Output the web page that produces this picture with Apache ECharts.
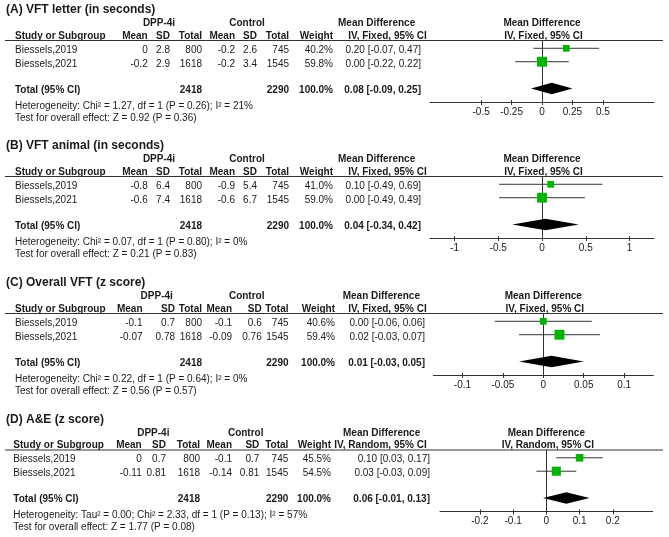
<!DOCTYPE html>
<html>
<head>
<meta charset="utf-8">
<script src="https://cdn.jsdelivr.net/npm/echarts@6/dist/echarts.min.js"></script>
<style>
html,body{margin:0;padding:0;background:#fff;}
#chart{width:669px;height:537px;}
</style>
</head>
<body>
<div id="chart"></div>
<script>
// ---------------- DATA ----------------
const studies = ['Biessels,2019', 'Biessels,2021'];
const dppN = [800, 1618];
const ctlN = [745, 1545];
const dppTotalN = 2418;
const ctlTotalN = 2290;

const titles = ['(A) VFT letter (in seconds)', '(B) VFT animal (in seconds)', '(C) Overall VFT (z score)', '(D) A&E (z score)'];
const methodLabels = ['IV, Fixed, 95% CI', 'IV, Fixed, 95% CI', 'IV, Fixed, 95% CI', 'IV, Random, 95% CI'];

// Panel A
const dppMeanA = [0, -0.2], dppSdA = [2.8, 2.9], ctlMeanA = [-0.2, -0.2], ctlSdA = [2.6, 3.4];
const weightA = [40.2, 59.8], mdA = [0.20, 0.00], loA = [-0.07, -0.22], hiA = [0.47, 0.22];
const totalA = [0.08, -0.09, 0.25];
const hetA = 'Heterogeneity: Chi\u00B2 = 1.27, df = 1 (P = 0.26); I\u00B2 = 21%';
const testA = 'Test for overall effect: Z = 0.92 (P = 0.36)';
const ticksA = [-0.5, -0.25, 0, 0.25, 0.5];
const rangeA = 0.92;

// Panel B
const dppMeanB = [-0.8, -0.6], dppSdB = [6.4, 7.4], ctlMeanB = [-0.9, -0.6], ctlSdB = [5.4, 6.7];
const weightB = [41.0, 59.0], mdB = [0.10, 0.00], loB = [-0.49, -0.49], hiB = [0.69, 0.49];
const totalB = [0.04, -0.34, 0.42];
const hetB = 'Heterogeneity: Chi\u00B2 = 0.07, df = 1 (P = 0.80); I\u00B2 = 0%';
const testB = 'Test for overall effect: Z = 0.21 (P = 0.83)';
const ticksB = [-1, -0.5, 0, 0.5, 1];
const rangeB = 1.28;

// Panel C
const dppMeanC = [-0.1, -0.07], dppSdC = [0.7, 0.78], ctlMeanC = [-0.1, -0.09], ctlSdC = [0.6, 0.76];
const weightC = [40.6, 59.4], mdC = [0.00, 0.02], loC = [-0.06, -0.03], hiC = [0.06, 0.07];
const totalC = [0.01, -0.03, 0.05];
const hetC = 'Heterogeneity: Chi\u00B2 = 0.22, df = 1 (P = 0.64); I\u00B2 = 0%';
const testC = 'Test for overall effect: Z = 0.56 (P = 0.57)';
const ticksC = [-0.1, -0.05, 0, 0.05, 0.1];
const rangeC = 0.136;

// Panel D
const dppMeanD = [0, -0.11], dppSdD = [0.7, 0.81], ctlMeanD = [-0.1, -0.14], ctlSdD = [0.7, 0.81];
const weightD = [45.5, 54.5], mdD = [0.10, 0.03], loD = [0.03, -0.03], hiD = [0.17, 0.09];
const totalD = [0.06, -0.01, 0.13];
const hetD = 'Heterogeneity: Tau\u00B2 = 0.00; Chi\u00B2 = 2.33, df = 1 (P = 0.13); I\u00B2 = 57%';
const testD = 'Test for overall effect: Z = 1.77 (P = 0.08)';
const ticksD = [-0.2, -0.1, 0, 0.1, 0.2];
const rangeD = 0.32;

const studyRows = [0, 1];
const totalRow = 3;

const panels = [
  {dm: dppMeanA, ds: dppSdA, cm: ctlMeanA, cs: ctlSdA, w: weightA, md: mdA, lo: loA, hi: hiA, tot: totalA, het: hetA, test: testA, ticks: ticksA, range: rangeA},
  {dm: dppMeanB, ds: dppSdB, cm: ctlMeanB, cs: ctlSdB, w: weightB, md: mdB, lo: loB, hi: hiB, tot: totalB, het: hetB, test: testB, ticks: ticksB, range: rangeB},
  {dm: dppMeanC, ds: dppSdC, cm: ctlMeanC, cs: ctlSdC, w: weightC, md: mdC, lo: loC, hi: hiC, tot: totalC, het: hetC, test: testC, ticks: ticksC, range: rangeC},
  {dm: dppMeanD, ds: dppSdD, cm: ctlMeanD, cs: ctlSdD, w: weightD, md: mdD, lo: loD, hi: hiD, tot: totalD, het: hetD, test: testD, ticks: ticksD, range: rangeD}
];

// ---------------- LAYOUT ----------------
const FONT = '"Liberation Sans", Arial, sans-serif';
const TXT = '#1a1a1a';
const LINE = '#333';
const GREEN = '#00b400';
const panelDy = [0, 136, 273, 409.5];
const gridX = [[430, 654], [430, 654], [433.3, 653.3], [440, 652.7]];
const colsAB = {name: 15, m1: 147.7, s1: 170, n1: 202, m2: 235, s2: 257, n2: 289, w: 333, md: 421, dpp: 159, ctl: 247, mdHeadL: 338, ivHeadR: 426.7};
const cols = [colsAB, colsAB,
  {name: 15, m1: 142.5, s1: 175, n1: 202, m2: 232, s2: 261.7, n2: 288.5, w: 335, md: 425, dpp: 156.7, ctl: 246.7, mdHeadL: 342.7, ivHeadR: 426.7},
  {name: 13.3, m1: 141.7, s1: 166, n1: 200, m2: 232, s2: 259.3, n2: 288.3, w: 331, md: 430, dpp: 153.3, ctl: 245.7, mdHeadL: 343, ivHeadR: 426.7}];
const Y = {title: 10, group: 23.3, header: 36, line: 40.5, rows: [50, 64], total: 90, het: 106, test: 118, axis: 102};
const yMin = -0.58, yMax = 4;

function txt(x, y, s, o) {
  o = o || {};
  return {
    type: 'text', x: x, y: y, silent: true,
    style: {
      text: s, fill: TXT,
      font: (o.bold ? 'bold ' : '') + (o.size || 10) + 'px ' + FONT,
      textAlign: o.align || 'left', textVerticalAlign: 'middle'
    }
  };
}
function hline(x1, x2, y, w) {
  return {type: 'line', silent: true, shape: {x1: x1, y1: y, x2: x2, y2: y}, style: {stroke: LINE, lineWidth: w || 1}};
}
function fmtCI(a, b, c) {
  return a.toFixed(2) + ' [' + b.toFixed(2) + ', ' + c.toFixed(2) + ']';
}

const grids = [], xAxes = [], yAxes = [], series = [], elements = [];

panels.forEach(function (p, i) {
  const dy = panelDy[i];
  const c = cols[i];
  // grid & axes
  grids.push({left: gridX[i][0], width: gridX[i][1] - gridX[i][0], top: Y.line + dy, height: Y.axis - Y.line});
  xAxes.push({
    gridIndex: i, type: 'value', min: -p.range, max: p.range, position: 'bottom',
    axisLine: {show: true, onZero: false, lineStyle: {color: LINE, width: 1}},
    axisTick: {show: true, inside: false, length: 3, customValues: p.ticks, lineStyle: {color: LINE, width: 1}},
    axisLabel: {show: true, customValues: p.ticks, margin: 5, fontSize: 10, color: TXT, fontFamily: FONT},
    splitLine: {show: false}
  });
  xAxes.push({
    gridIndex: i, type: 'value', min: -p.range, max: p.range, position: 'bottom',
    axisLine: {show: false, onZero: false},
    axisTick: {show: true, inside: true, length: 2, customValues: p.ticks, lineStyle: {color: LINE, width: 1}},
    axisLabel: {show: false},
    splitLine: {show: false}
  });
  yAxes.push({
    gridIndex: i, type: 'value', inverse: true, min: yMin, max: yMax,
    axisLine: {show: true, onZero: true, lineStyle: {color: LINE, width: 1}},
    axisTick: {show: false}, axisLabel: {show: false}, splitLine: {show: false}
  });
  // CI lines
  series.push({
    type: 'custom', xAxisIndex: i * 2, yAxisIndex: i, z: 3,
    encode: {x: [0, 1], y: 2},
    data: studyRows.map(function (r, k) { return [p.lo[k], p.hi[k], r]; }),
    renderItem: function (params, api) {
      const y = api.value(2);
      const a = api.coord([api.value(0), y]);
      const b = api.coord([api.value(1), y]);
      return {type: 'line', shape: {x1: a[0], y1: a[1], x2: b[0], y2: b[1]}, style: {stroke: LINE, lineWidth: 1}};
    }
  });
  // squares
  series.push({
    type: 'scatter', xAxisIndex: i * 2, yAxisIndex: i, z: 4,
    symbol: 'rect',
    symbolSize: function (v) { return v[2] / 6; },
    itemStyle: {color: GREEN, opacity: 1},
    data: studyRows.map(function (r, k) { return [p.md[k], r, p.w[k]]; })
  });
  // diamond
  series.push({
    type: 'custom', xAxisIndex: i * 2, yAxisIndex: i, z: 4,
    encode: {x: [0, 1, 2], y: 3},
    data: [[p.tot[1], p.tot[0], p.tot[2], totalRow]],
    renderItem: function (params, api) {
      const y = api.value(3);
      const a = api.coord([api.value(0), y]);
      const m = api.coord([api.value(1), y]);
      const b = api.coord([api.value(2), y]);
      const h = 5.8;
      return {type: 'polygon', shape: {points: [[a[0], a[1]], [m[0], m[1] - h], [b[0], b[1]], [m[0], m[1] + h]]}, style: {fill: '#000'}};
    }
  });

  // table text
  elements.push(txt(6, Y.title + dy, titles[i], {bold: true, size: 12}));
  elements.push(txt(c.dpp, Y.group + dy, 'DPP-4i', {bold: true, align: 'center'}));
  elements.push(txt(c.ctl, Y.group + dy, 'Control', {bold: true, align: 'center'}));
  elements.push(txt(c.mdHeadL, Y.group + dy, 'Mean Difference', {bold: true}));
  elements.push(txt(c.name, Y.header + dy, 'Study or Subgroup', {bold: true}));
  elements.push(txt(c.m1, Y.header + dy, 'Mean', {bold: true, align: 'right'}));
  elements.push(txt(c.s1, Y.header + dy, 'SD', {bold: true, align: 'right'}));
  elements.push(txt(c.n1, Y.header + dy, 'Total', {bold: true, align: 'right'}));
  elements.push(txt(c.m2, Y.header + dy, 'Mean', {bold: true, align: 'right'}));
  elements.push(txt(c.s2, Y.header + dy, 'SD', {bold: true, align: 'right'}));
  elements.push(txt(c.n2, Y.header + dy, 'Total', {bold: true, align: 'right'}));
  elements.push(txt(c.w, Y.header + dy, 'Weight', {bold: true, align: 'right'}));
  elements.push(txt(c.ivHeadR, Y.header + dy, methodLabels[i], {bold: true, align: 'right'}));
  elements.push(hline(5, 663, Y.line + dy, 1.2));
  studies.forEach(function (s, k) {
    const y = Y.rows[k] + dy;
    elements.push(txt(c.name, y, s));
    elements.push(txt(c.m1, y, String(p.dm[k]), {align: 'right'}));
    elements.push(txt(c.s1, y, String(p.ds[k]), {align: 'right'}));
    elements.push(txt(c.n1, y, String(dppN[k]), {align: 'right'}));
    elements.push(txt(c.m2, y, String(p.cm[k]), {align: 'right'}));
    elements.push(txt(c.s2, y, String(p.cs[k]), {align: 'right'}));
    elements.push(txt(c.n2, y, String(ctlN[k]), {align: 'right'}));
    elements.push(txt(c.w, y, p.w[k].toFixed(1) + '%', {align: 'right'}));
    elements.push(txt(c.md, y, fmtCI(p.md[k], p.lo[k], p.hi[k]), {align: 'right'}));
  });
  const ty = Y.total + dy;
  elements.push(txt(c.name, ty, 'Total (95% CI)', {bold: true}));
  elements.push(txt(c.n1, ty, String(dppTotalN), {bold: true, align: 'right'}));
  elements.push(txt(c.n2, ty, String(ctlTotalN), {bold: true, align: 'right'}));
  elements.push(txt(c.w, ty, '100.0%', {bold: true, align: 'right'}));
  elements.push(txt(c.md, ty, fmtCI(p.tot[0], p.tot[1], p.tot[2]), {bold: true, align: 'right'}));
  elements.push(txt(c.name, Y.het + dy, p.het));
  elements.push(txt(c.name, Y.test + dy, p.test));
});

const chart = echarts.init(document.getElementById('chart'), null, {renderer: 'canvas'});
chart.setOption({
  animation: false,
  backgroundColor: '#ffffff',
  grid: grids, xAxis: xAxes, yAxis: yAxes, series: series,
  graphic: {elements: elements}
});

// plot headers centred on the zero line of each forest plot
const plotHeads = [];
panels.forEach(function (p, i) {
  const zx = chart.convertToPixel({xAxisIndex: i * 2}, 0);
  plotHeads.push(txt(zx, Y.group + panelDy[i], 'Mean Difference', {bold: true, align: 'center'}));
  plotHeads.push(txt(zx + 1.5, Y.header + panelDy[i], methodLabels[i], {bold: true, align: 'center'}));
});
chart.setOption({graphic: {elements: elements.concat(plotHeads)}});
</script>
</body>
</html>
